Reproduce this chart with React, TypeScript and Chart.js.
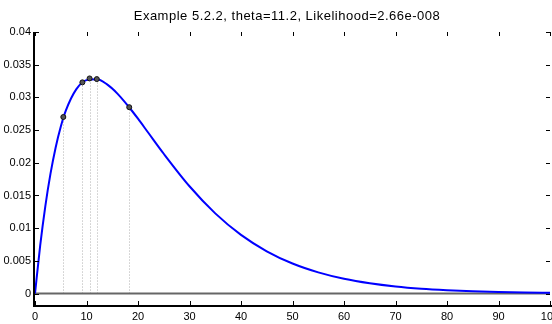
import React, { useEffect, useRef } from "react";
import { Chart, registerables } from "chart.js";
Chart.register(...registerables);

const TITLE = "Example 5.2.2, theta=11.2, Likelihood=2.66e-008";
const curveX = [0, 1, 2, 3, 4, 5, 6, 8, 10, 12, 14, 16, 18, 20, 22, 25, 30, 35, 40, 45, 50, 55, 60, 65, 70, 75, 80, 85, 90, 95, 100];
const curveY = [0, 0.00729, 0.01334, 0.0183, 0.02231, 0.02551, 0.028, 0.03122, 0.03264, 0.03277, 0.03198, 0.03058, 0.02876, 0.02674, 0.02459, 0.02138, 0.01641, 0.01226, 0.00897, 0.00646, 0.00459, 0.00324, 0.00226, 0.00157, 0.00108, 0.00074, 0.00051, 0.00034, 0.00023, 0.00016, 0.00011];
const obsX = [5.5, 9.2, 10.6, 12.0, 18.3];
const obsY = [0.0270, 0.0323, 0.0329, 0.0328, 0.0285];
const xTicks = [0, 10, 20, 30, 40, 50, 60, 70, 80, 90, 100];
const xTickLabels = ["0", "10", "20", "30", "40", "50", "60", "70", "80", "90", "100"];
const yTicks = [0, 0.005, 0.01, 0.015, 0.02, 0.025, 0.03, 0.035, 0.04];
const yTickLabels = ["0", "0.005", "0.01", "0.015", "0.02", "0.025", "0.03", "0.035", "0.04"];

const FONT = "'Liberation Sans', Arial, sans-serif";

const decor = {
  id: "decor",
  beforeDatasetsDraw(chart: any) {
    const { ctx, chartArea: a, scales } = chart;
    const x = scales.x, y = scales.y;
    ctx.save();
    const y0 = y.getPixelForValue(0);
    ctx.setLineDash([1, 2]);
    ctx.strokeStyle = "#b0b0b0";
    ctx.lineWidth = 1;
    obsX.forEach((vx, i) => {
      const px = Math.round(x.getPixelForValue(vx)) + 0.5;
      ctx.beginPath();
      ctx.moveTo(px, y0);
      ctx.lineTo(px, y.getPixelForValue(obsY[i]));
      ctx.stroke();
    });
    ctx.setLineDash([]);
    ctx.strokeStyle = "#666";
    ctx.lineWidth = 2;
    ctx.beginPath();
    ctx.moveTo(a.left, y0);
    ctx.lineTo(a.right, y0);
    ctx.stroke();
    ctx.restore();
  },
  afterDraw(chart: any) {
    const { ctx, chartArea: a, scales } = chart;
    const x = scales.x, y = scales.y;
    ctx.save();
    ctx.strokeStyle = "#000";
    ctx.lineWidth = 1;
    const tl = 4;
    xTicks.forEach((v) => {
      const px = Math.round(x.getPixelForValue(v)) + 0.5;
      ctx.beginPath();
      ctx.moveTo(px, a.bottom);
      ctx.lineTo(px, a.bottom - tl);
      ctx.moveTo(px, a.top);
      ctx.lineTo(px, a.top + tl);
      ctx.stroke();
    });
    yTicks.forEach((v) => {
      const py = Math.round(y.getPixelForValue(v)) + 0.5;
      ctx.beginPath();
      ctx.moveTo(a.left, py);
      ctx.lineTo(a.left + tl, py);
      ctx.moveTo(a.right, py);
      ctx.lineTo(a.right - tl, py);
      ctx.stroke();
    });
    ctx.lineWidth = 2;
    ctx.beginPath();
    ctx.moveTo(a.left - 1, a.top);
    ctx.lineTo(a.left - 1, a.bottom + 2);
    ctx.moveTo(a.left - 2, a.bottom + 1);
    ctx.lineTo(a.right + 2, a.bottom + 1);
    ctx.stroke();
    ctx.fillStyle = "#000";
    ctx.font = "13px " + FONT;
    try { (ctx as any).letterSpacing = "0.5px"; } catch (e) {}
    ctx.textAlign = "center";
    ctx.textBaseline = "alphabetic";
    ctx.fillText(TITLE, 287, 19.5);
    ctx.restore();
  },
};

export default function App() {
  const ref = useRef<HTMLCanvasElement>(null);
  useEffect(() => {
    const chart = new Chart(ref.current as HTMLCanvasElement, {
      type: "line",
      data: {
        datasets: [
          {
            type: "line",
            data: curveX.map((v, i) => ({ x: v, y: curveY[i] })),
            borderColor: "#0000ff",
            borderWidth: 2,
            pointRadius: 0,
            cubicInterpolationMode: "monotone",
            fill: false,
            order: 2,
          },
          {
            type: "scatter",
            data: obsX.map((v, i) => ({ x: v, y: obsY[i] })),
            borderColor: "#111",
            backgroundColor: "#555",
            borderWidth: 1,
            pointRadius: 2.5,
            showLine: false,
            order: 1,
          },
        ] as any,
      },
      options: {
        animation: false,
        responsive: false,
        layout: { padding: { top: 32, right: 20, left: 0, bottom: 0 } },
        plugins: { legend: { display: false }, tooltip: { enabled: false }, title: { display: false } },
        scales: {
          x: {
            type: "linear",
            min: 0,
            max: 100,
            grid: { display: false, drawTicks: false },
            border: { display: false },
            afterBuildTicks: (s: any) => { s.ticks = xTicks.map((v) => ({ value: v })); },
            afterFit: (s: any) => { s.height = 19; },
            ticks: {
              autoSkip: false,
              maxRotation: 0,
              padding: 5,
              color: "#000",
              font: { family: FONT, size: 11 },
              callback: (_v: any, i: number) => xTickLabels[i],
            },
          },
          y: {
            type: "linear",
            min: -0.00175,
            max: 0.04,
            grid: { display: false, drawTicks: false },
            border: { display: false },
            afterBuildTicks: (s: any) => { s.ticks = yTicks.map((v) => ({ value: v })); },
            afterFit: (s: any) => { s.width = 35; },
            ticks: {
              autoSkip: false,
              padding: 4,
              color: "#000",
              font: { family: FONT, size: 11 },
              callback: (_v: any, i: number) => yTickLabels[i],
            },
          },
        },
      } as any,
      plugins: [decor],
    });
    return () => chart.destroy();
  }, []);
  return (
    <div style={{ position: "absolute", left: 0, top: 0, width: 552, height: 324, overflow: "hidden", background: "#fff" }}>
      <canvas ref={ref} width={570} height={324} style={{ display: "block" }} />
    </div>
  );
}
